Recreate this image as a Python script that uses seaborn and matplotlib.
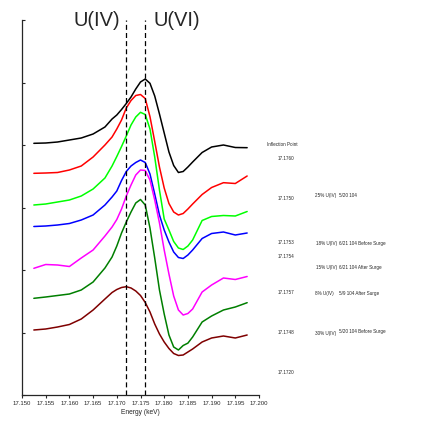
import numpy as np
import pandas as pd
import seaborn as sns
import matplotlib
matplotlib.use("Agg")
import matplotlib.pyplot as plt

# energy grid the curves were read on (keV), denser around the edge
energy = [17.1525, 17.155, 17.1575, 17.160, 17.1625, 17.165, 17.1675,
          17.169, 17.170, 17.171, 17.172, 17.173, 17.174, 17.175, 17.176, 17.177,
          17.178, 17.179, 17.180, 17.181, 17.182, 17.183, 17.184, 17.185, 17.186,
          17.188, 17.190, 17.1925, 17.195, 17.1975]

# offset normalized spectra, top to bottom
s1760 = [4.027, 4.032, 4.048, 4.08, 4.112, 4.176, 4.288,
         4.416, 4.48, 4.568, 4.664, 4.768, 4.896, 5.008, 5.056, 4.987,
         4.784, 4.496, 4.192, 3.888, 3.672, 3.56, 3.576, 3.648, 3.728,
         3.88, 3.968, 4.0, 3.96, 3.957]
s1750 = [3.547, 3.552, 3.56, 3.6, 3.664, 3.808, 4.0,
         4.128, 4.256, 4.4, 4.592, 4.712, 4.792, 4.808, 4.744, 4.453,
         4.056, 3.648, 3.312, 3.064, 2.928, 2.88, 2.904, 2.976, 3.056,
         3.208, 3.32, 3.397, 3.384, 3.504]
s1753 = [3.04, 3.056, 3.088, 3.12, 3.184, 3.296, 3.472,
         3.664, 3.816, 3.976, 4.144, 4.32, 4.448, 4.523, 4.488, 4.256,
         3.808, 3.28, 2.816, 2.64, 2.456, 2.352, 2.328, 2.384, 2.48,
         2.792, 2.856, 2.872, 2.864, 2.936]
s1754 = [2.696, 2.704, 2.72, 2.744, 2.8, 2.88, 3.04,
         3.168, 3.264, 3.432, 3.576, 3.664, 3.72, 3.76, 3.72, 3.536,
         3.216, 2.88, 2.64, 2.448, 2.288, 2.2, 2.184, 2.24, 2.32,
         2.504, 2.584, 2.608, 2.56, 2.592]
s1757 = [2.027, 2.088, 2.08, 2.056, 2.192, 2.32, 2.544,
         2.688, 2.808, 2.976, 3.184, 3.36, 3.52, 3.6, 3.592, 3.44,
         3.12, 2.752, 2.32, 1.936, 1.584, 1.36, 1.28, 1.304, 1.376,
         1.648, 1.76, 1.872, 1.848, 1.896]
s1748 = [1.547, 1.568, 1.592, 1.616, 1.68, 1.808, 2.032,
         2.208, 2.384, 2.592, 2.768, 2.928, 3.072, 3.128, 3.04, 2.672,
         2.192, 1.68, 1.296, 0.96, 0.768, 0.72, 0.792, 0.83, 0.928,
         1.168, 1.264, 1.36, 1.408, 1.477]
s1720 = [1.04, 1.056, 1.088, 1.128, 1.216, 1.36, 1.536,
         1.64, 1.688, 1.72, 1.733, 1.712, 1.664, 1.592, 1.48, 1.328,
         1.136, 0.976, 0.848, 0.744, 0.664, 0.632, 0.64, 0.688, 0.736,
         0.848, 0.912, 0.944, 0.912, 0.96]

series = {"17.1760": s1760, "17.1750": s1750, "17.1753": s1753, "17.1754": s1754,
          "17.1757": s1757, "17.1748": s1748, "17.1720": s1720}
colors = ["black", "#ff0000", "#00ff00", "#0000ff", "#ff00ff", "#007f00", "#7f0000"]

edges = [17.172, 17.176]
edge_labels = ["U(IV)", "U(VI)"]
xticks = [17.150, 17.155, 17.160, 17.165, 17.170, 17.175, 17.180, 17.185, 17.190, 17.195, 17.200]

# right-hand notes: (text, x px, y px)
notes = [("Inflection Point", 267, 145),
         ("17.1760", 278, 159),
         ("17.1750", 278, 198), ("25% U(IV)", 315, 195), ("5/20 104", 339, 195),
         ("17.1753", 278, 242), ("18% U(IV)", 316, 244), ("6/21 104 Before Surge", 339, 244),
         ("17.1754", 278, 256), ("15% U(IV)", 316, 267), ("6/21 104 After Surge", 339, 267),
         ("17.1757", 278, 293), ("8% U(IV)", 315, 294), ("5/9 104 After Surge", 339, 294),
         ("17.1748", 278, 332), ("30% U(IV)", 315, 333), ("5/20 104 Before Surge", 339, 332),
         ("17.1720", 278, 373)]

rows = []
for name, vals in series.items():
    for e, v in zip(energy, vals):
        rows.append((name, e, v))
df = pd.DataFrame(rows, columns=["sample", "energy", "mu"])

sns.set_style("ticks")
plt.rcParams["font.family"] = ["Liberation Sans", "DejaVu Sans"]

W, H = 422, 422
fig = plt.figure(figsize=(W / 100, H / 100), dpi=100)
ax = fig.add_axes([22 / W, 1 - 395 / H, (259 - 22) / W, (395 - 20) / H])

sns.lineplot(data=df, x="energy", y="mu", hue="sample", palette=colors,
             linewidth=1.1, legend=False, ax=ax)

for e in edges:
    ax.axvline(e, color="black", linestyle=(0, (4, 2.5)), linewidth=0.9)

ax.set_xlim(17.150, 17.200)
ax.set_ylim(0, 6)
ax.set_xticks(xticks)
ax.set_xticklabels([f"{t:.3f}" for t in xticks], fontsize=4.3)
ax.set_yticks(range(0, 7))
ax.set_yticklabels([])
ax.tick_params(axis="y", direction="in", length=2.5, width=0.8)
ax.tick_params(axis="x", direction="out", length=2.5, width=0.8, pad=2)
ax.set_xlabel("Energy (keV)", fontsize=4.8, labelpad=2)
ax.set_ylabel("")
for side in ["top", "right"]:
    ax.spines[side].set_visible(False)
for side in ["left", "bottom"]:
    ax.spines[side].set_linewidth(0.9)

for lab, px in zip(edge_labels, [97, 177]):
    fig.text(px / W, 1 - 21 / H, lab, fontsize=14.5, ha="center", va="center")

for txt, px, py in notes:
    fig.text(px / W, 1 - py / H, txt, fontsize=3.3, ha="left", va="center")

fig.savefig("out.png", dpi=100)
